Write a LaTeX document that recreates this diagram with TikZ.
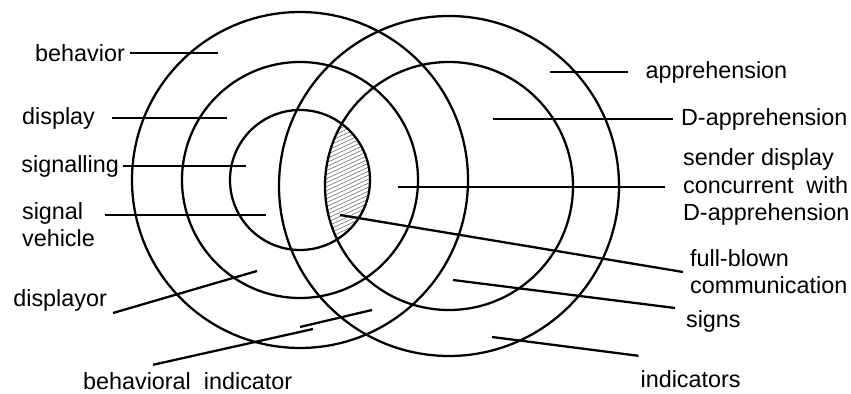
\documentclass[tikz,border=0pt]{standalone}
\usepackage{fontspec}
\setmainfont{Liberation Sans}
\usetikzlibrary{calc}

\begin{document}
\begin{tikzpicture}[
    ring/.style={line width=1.3pt},
    leader/.style={line width=1.3pt},
    hatch/.style={line width=0.35pt, black!55},
    lbl/.style={inner sep=1pt, font=\fontsize{13.3}{15.4}\selectfont, align=left}
  ]
  % fixed frame of the picture
  \useasboundingbox (0,0) rectangle (17.02,7.88);

  % centres of the two families of circles
  \coordinate (L) at (6.00,4.28);
  \coordinate (R) at (8.98,4.16);

  % hatched lens where signalling meets D-apprehension
  \begin{scope}
    \clip (L) circle (1.40);
    \clip (R) circle (2.48);
    \foreach \k in {0,...,45}
      \draw[hatch] (6.3,{2.2+0.08*\k}) -- ++(1.4,0.65);
  \end{scope}

  % left circles: behavior, display, signalling
  \draw[ring] (L) circle (3.36);
  \draw[ring] (L) circle (2.36);
  \draw[ring] (L) circle (1.40);

  % right circles: apprehension, D-apprehension
  \draw[ring] (R) circle (3.40);
  \draw[ring] (R) circle (2.48);

  % labels on the left
  \node[lbl, anchor=east] (behavior) at (2.54,6.82) {behavior};
  \node[lbl, anchor=east] (display) at (1.94,5.52) {display};
  \node[lbl, anchor=east] (signalling) at (2.42,4.56) {signalling};
  \node[lbl, anchor=north west] (sigveh) at (0.40,3.88) {signal\\vehicle};
  \node[lbl, anchor=east] (displayor) at (2.18,1.88) {displayor};
  \node[lbl, anchor=west] (behind) at (1.62,0.25) {behavioral~ indicator};

  % labels on the right
  \node[lbl, anchor=west] (appr) at (12.87,6.44) {apprehension};
  \node[lbl, anchor=west] (dappr) at (13.58,5.50) {D-apprehension};
  \node[lbl, anchor=west] (sender) at (13.62,4.14) {sender display\\concurrent~ with\\D-apprehension};
  \node[lbl, anchor=west] (fullblown) at (13.76,2.44) {full-blown\\communication};
  \node[lbl, anchor=west] (signs) at (13.68,1.46) {signs};
  \node[lbl, anchor=west] (indicators) at (12.77,0.30) {indicators};

  % inner ends of the leader lines
  \coordinate (behavior-in) at (4.36,6.82);
  \coordinate (display-in) at (4.54,5.52);
  \coordinate (signalling-in) at (4.92,4.56);
  \coordinate (sigveh-in) at (5.32,3.58);
  \coordinate (displayor-in) at (5.14,2.46);
  \coordinate (behind-in) at (6.26,1.30);
  \coordinate (behind-jog) at (6.00,1.34);
  \coordinate (behind-tip) at (7.44,1.68);
  \coordinate (appr-in) at (11.00,6.44);
  \coordinate (dappr-in) at (9.86,5.50);
  \coordinate (sender-in) at (7.96,4.14);
  \coordinate (fullblown-in) at (6.80,3.58);
  \coordinate (signs-in) at (9.06,2.28);
  \coordinate (indicators-in) at (9.84,1.14);

  % leader lines
  \draw[leader] ($(behavior.east)+(0.06,0)$) -- (behavior-in);
  \draw[leader] ($(display.east)+(0.3,0)$) -- (display-in);
  \draw[leader] ($(signalling.east)+(0.04,0)$) -- (signalling-in);
  \draw[leader] ($(sigveh.east |- sigveh-in)+(0.16,0)$) -- (sigveh-in);
  \draw[leader] ($(displayor.south east)+(0.08,0)$) -- (displayor-in);
  \draw[leader] ($(behind.north west)+(1.44,0.12)$) -- (behind-in);
  \draw[leader] (behind-jog) -- (behind-tip);
  \draw[leader] (appr-in) -- ($(appr.west)+(-0.31,0)$);
  \draw[leader] (dappr-in) -- ($(dappr.west)+(-0.12,0)$);
  \draw[leader] (sender-in) -- ($(sender.west)+(-0.32,0)$);
  \draw[leader] (fullblown-in) -- ($(fullblown.west)+(-0.1,0)$);
  \draw[leader] (signs-in) -- ($(signs.north west)+(-0.18,0)$);
  \draw[leader] (indicators-in) -- ($(indicators.north west)+(0,0.25)$);
\end{tikzpicture}
\end{document}
